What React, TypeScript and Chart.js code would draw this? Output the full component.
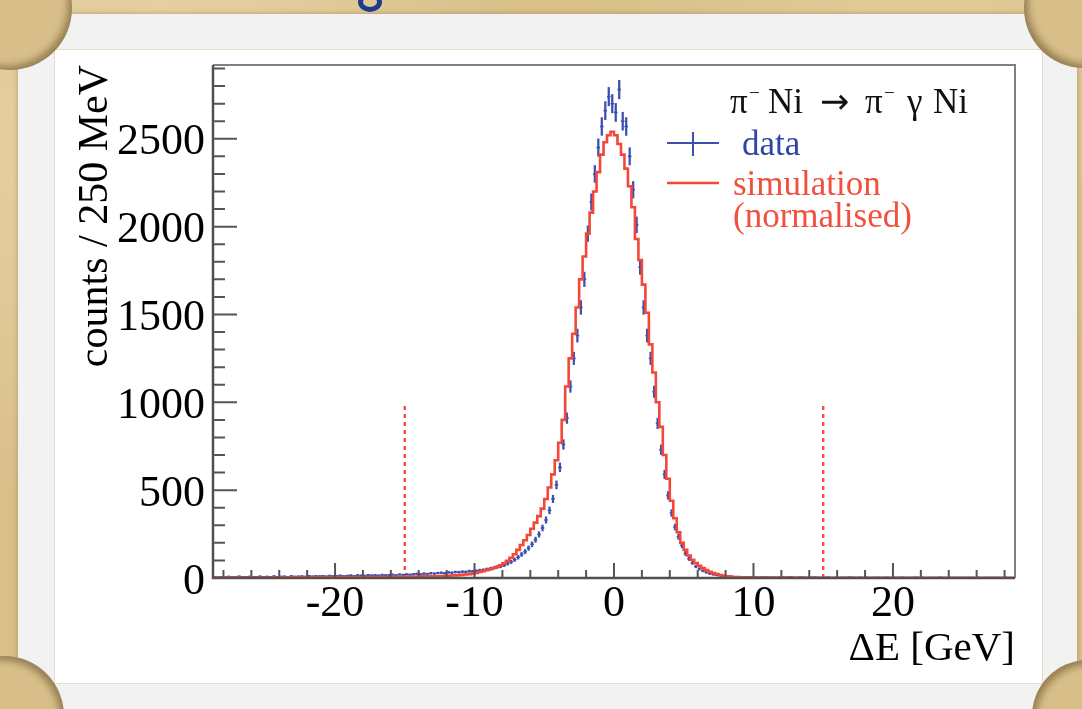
import React, { useEffect, useRef } from "react";
import { Chart, registerables } from "chart.js";

Chart.register(...registerables);

// ---- histogram binning: 0.25 GeV bins from -28.75 to 28.75 GeV ----
const BIN_LOW = -28.75;
const BIN_WIDTH = 0.25;

// ---- data (counts per bin), left tail -28.75..-10, core -10..10, right tail 10..28.75 ----
const dataLeftTail = [
  6, 4, 7, 5, 8, 6, 5, 9, 7, 6, 8, 5, 7, 9, 6, 8, 7, 10, 6, 8, 9, 7, 11, 8, 9, 10, 8, 12, 9, 11, 10, 12, 9, 13, 11,
  12, 14, 11, 13, 15, 12, 16, 14, 13, 17, 15, 16, 14, 18, 16, 17, 19, 16, 20, 18,
  21, 19, 22, 24, 21, 25, 23, 27, 25, 28, 30, 27, 32, 30, 34, 33, 36, 35, 39, 38,
];
const dataCore = [
  41, 44, 46, 50, 53, 57, 62, 66, 73, 82,
  92, 104, 118, 134, 150, 170, 192, 218, 248, 285,
  330, 385, 450, 530, 630, 760, 910, 1090, 1250, 1380,
  1540, 1700, 1960, 2140, 2300, 2450, 2570, 2660, 2740, 2700,
  2650, 2780, 2600, 2570, 2400, 2210, 2010, 1770, 1540, 1380,
  1250, 1060, 880, 730, 590, 470, 370, 290, 235, 185,
  140, 110, 86, 66, 52, 41, 32, 25, 20, 16,
  13, 11, 9, 8, 7, 6, 6, 5, 5, 4,
];
const dataRightTail = [
  4, 3, 5, 4, 3, 4, 2, 3, 4, 3, 5, 3, 2, 4, 3,
  3, 2, 4, 3, 2, 3, 4, 2, 3, 2, 3, 2, 4, 3, 2,
  3, 2, 3, 1, 2, 3, 2, 2, 3, 1, 2, 2, 3, 2, 1,
  2, 3, 2, 2, 1, 2, 2, 1, 3, 2, 1, 2, 2, 1, 2,
  1, 2, 2, 1, 2, 1, 1, 2, 1, 2, 1, 1, 2, 1, 1,
];

// ---- simulation (normalised) ----
const simLeftTail = [
  2, 2, 2, 2, 2, 2, 2, 2, 3, 3, 3, 3, 3, 3, 3, 3, 3, 3, 3, 3, 3, 4, 4, 4, 4, 4, 4, 4, 4, 4, 4, 4, 5, 5, 5,
  5, 5, 5, 5, 5, 5, 5, 6, 6, 6, 6, 6, 6, 6, 6, 6, 7, 7, 7, 7,
  7, 7, 8, 8, 8, 8, 9, 9, 9, 10, 10, 11, 12, 13, 14, 15, 16, 18, 20, 22,
];
const simCore = [
  25, 29, 34, 39, 44, 50, 57, 64, 73, 84,
  98, 115, 135, 160, 188, 215, 245, 280, 315, 352,
  395, 450, 515, 590, 670, 770, 900, 1090, 1250, 1390,
  1540, 1700, 1830, 1960, 2080, 2200, 2310, 2410, 2480, 2520,
  2540, 2520, 2470, 2410, 2330, 2230, 2110, 1930, 1810, 1670,
  1510, 1330, 1170, 1000, 860, 700, 565, 440, 340, 260,
  200, 160, 128, 104, 85, 70, 56, 45, 36, 28,
  22, 17, 13, 10, 8, 6, 5, 4, 3, 3,
];
const simRightTail = [
  3, 2, 2, 2, 2, 2, 2, 2, 2, 2, 2, 2, 2, 1, 2,
  1, 1, 2, 1, 1, 1, 1, 1, 1, 1, 1, 1, 1, 1, 1,
  1, 1, 1, 1, 1, 1, 1, 1, 1, 1, 1, 1, 1, 1, 1,
  1, 1, 1, 1, 1, 1, 1, 1, 1, 1, 1, 1, 1, 1, 1,
  1, 1, 1, 1, 1, 1, 1, 1, 1, 1, 1, 1, 1, 1, 1,
];

// ---- selection cuts (dashed lines) ----
const cutPositions = [-15, 15];
const cutHeight = 1000;

// ---- axes ----
const xTickValues = [-20, -10, 0, 10, 20];
const yTickValues = [0, 500, 1000, 1500, 2000, 2500];
const yMax = 2920;

// header pieces and their horizontal offsets within the legend header
const legendHeader = ["π", "−", "Ni", "→", "π", "−", "γ", "Ni"];
const legendHeaderOffsets = [0, 19, 38, 90, 135, 154, 177, 203];
const legendData = "data";
const legendSim = ["simulation", "(normalised)"];

const BLUE = "#3d4fb0";
const RED = "#f4473a";
const SERIF = "'Liberation Serif', 'Times New Roman', serif";

const dataCounts = [...dataLeftTail, ...dataCore, ...dataRightTail];
const simCounts = [...simLeftTail, ...simCore, ...simRightTail];
const nBins = dataCounts.length;
const BIN_HIGH = BIN_LOW + BIN_WIDTH * nBins;

const rootFrame = {
  id: "rootFrame",
  afterDatasetsDraw(chart: any) {
    const { ctx, chartArea: a, scales } = chart;
    const xs = scales.x;
    const ys = scales.y;
    ctx.save();
    ctx.strokeStyle = "#808080";
    ctx.lineWidth = 2;
    ctx.beginPath();
    ctx.moveTo(a.left, a.top);
    ctx.lineTo(a.right, a.top);
    ctx.lineTo(a.right, a.bottom);
    ctx.stroke();
    ctx.strokeStyle = "#505050";
    ctx.lineWidth = 2.5;
    ctx.beginPath();
    ctx.moveTo(a.left, a.top);
    ctx.lineTo(a.left, a.bottom);
    ctx.lineTo(a.right, a.bottom);
    ctx.stroke();
    ctx.strokeStyle = "#555";
    ctx.lineWidth = 2;
    ctx.beginPath();
    for (let v = -28; v <= 28; v += 2) {
      const px = xs.getPixelForValue(v);
      const len = v % 10 === 0 ? 15 : 8;
      ctx.moveTo(px, a.bottom);
      ctx.lineTo(px, a.bottom - len);
    }
    for (let v = 0; v <= yMax; v += 100) {
      const py = ys.getPixelForValue(v);
      const len = v % 500 === 0 ? 24 : 12;
      ctx.moveTo(a.left, py);
      ctx.lineTo(a.left + len, py);
    }
    ctx.stroke();
    ctx.restore();
  },
};

const rootLegend = {
  id: "rootLegend",
  afterDraw(chart: any) {
    const { ctx, chartArea: a } = chart;
    ctx.save();
    ctx.textBaseline = "alphabetic";
    ctx.textAlign = "left";
    const hx = a.right - 285;
    const hy = a.top + 48;
    const size = 35;
    legendHeader.forEach((p, i) => {
      const sup = p === "−";
      const arrow = p === "→";
      ctx.font = arrow
        ? `${size}px 'DejaVu Sans', sans-serif`
        : `${sup ? size * 0.55 : size}px ${SERIF}`;
      ctx.fillStyle = "#111";
      ctx.fillText(p, hx + legendHeaderOffsets[i], sup ? hy - size * 0.4 : hy);
    });
    ctx.strokeStyle = BLUE;
    ctx.lineWidth = 2;
    ctx.beginPath();
    ctx.moveTo(a.right - 348, a.top + 78);
    ctx.lineTo(a.right - 296, a.top + 78);
    ctx.moveTo(a.right - 322, a.top + 67);
    ctx.lineTo(a.right - 322, a.top + 91);
    ctx.stroke();
    ctx.font = `35px ${SERIF}`;
    ctx.fillStyle = "#2f45a6";
    ctx.fillText(legendData, a.right - 273, a.top + 90);
    ctx.strokeStyle = RED;
    ctx.lineWidth = 2.5;
    ctx.beginPath();
    ctx.moveTo(a.right - 348, a.top + 118);
    ctx.lineTo(a.right - 296, a.top + 118);
    ctx.stroke();
    ctx.fillStyle = "#f2503f";
    ctx.fillText(legendSim[0], a.right - 282, a.top + 130);
    ctx.fillText(legendSim[1], a.right - 282, a.top + 162);
    ctx.restore();
  },
};

export default function App() {
  const ref = useRef<HTMLCanvasElement>(null);

  useEffect(() => {
    const canvas = ref.current;
    if (!canvas) return;
    const centers = dataCounts.map((_, i) => BIN_LOW + BIN_WIDTH * (i + 0.5));
    const simPoints = simCounts.map((v, i) => ({ x: BIN_LOW + BIN_WIDTH * i, y: v }));
    simPoints.push({ x: BIN_HIGH, y: simCounts[nBins - 1] });

    const chart = new Chart(canvas, {
      type: "scatter",
      data: {
        datasets: [
          {
            type: "line",
            label: "simulation",
            data: simPoints,
            stepped: "after",
            borderColor: RED,
            borderWidth: 2.6,
            pointRadius: 0,
            fill: false,
            order: 0,
          } as any,
          {
            type: "bar",
            label: "data errors",
            data: dataCounts.map((v, i) => ({ x: centers[i], y: [v - Math.sqrt(v), v + Math.sqrt(v)] })),
            backgroundColor: BLUE,
            barThickness: 1.6,
            borderWidth: 0,
            order: 1,
          } as any,
          {
            type: "scatter",
            label: "data",
            data: dataCounts.map((v, i) => ({ x: centers[i], y: v })),
            pointStyle: "line",
            pointRadius: 1.8,
            borderColor: BLUE,
            borderWidth: 1.6,
            order: 2,
          } as any,
          ...cutPositions.map((c) => ({
            type: "line",
            label: "cut",
            data: [
              { x: c, y: 0 },
              { x: c, y: cutHeight },
            ],
            borderColor: "#f5503f",
            borderWidth: 2.4,
            borderDash: [4, 4],
            pointRadius: 0,
            order: 3,
          })) as any,
        ],
      },
      options: {
        responsive: false,
        animation: false,
        devicePixelRatio: 1,
        events: [],
        layout: { padding: { left: 53, right: 67, top: 65, bottom: 26 } },
        plugins: { legend: { display: false }, tooltip: { enabled: false } },
        scales: {
          x: {
            type: "linear",
            min: BIN_LOW,
            max: BIN_HIGH,
            offset: false,
            grid: { display: false, drawTicks: false },
            border: { display: false },
            afterBuildTicks: (s: any) => {
              s.ticks = xTickValues.map((v) => ({ value: v }));
            },
            afterFit: (s: any) => {
              s.height = 105;
            },
            ticks: {
              autoSkip: false,
              maxRotation: 0,
              padding: 0,
              color: "#000",
              font: { family: SERIF, size: 44 },
              callback: (v: any) => `${v}`,
            },
            title: {
              display: true,
              text: "ΔE [GeV]",
              align: "end",
              color: "#000",
              font: { family: SERIF, size: 41 },
              padding: { top: 0, bottom: 9 },
            },
          },
          y: {
            type: "linear",
            min: 0,
            max: yMax,
            grid: { display: false, drawTicks: false },
            border: { display: false },
            afterBuildTicks: (s: any) => {
              s.ticks = yTickValues.map((v) => ({ value: v }));
            },
            afterFit: (s: any) => {
              s.width = 160;
            },
            ticks: {
              autoSkip: false,
              padding: 8,
              labelOffset: 4,
              color: "#000",
              font: { family: SERIF, size: 44 },
              callback: (v: any) => `${v}`,
            },
            title: {
              display: true,
              text: "counts / 250 MeV",
              align: "end",
              color: "#000",
              font: { family: SERIF, size: 42 },
              padding: { top: 18, bottom: 0 },
            },
          },
        },
      } as any,
      plugins: [rootFrame, rootLegend],
    });
    return () => chart.destroy();
  }, []);

  const parchment =
    "radial-gradient(circle at 15% 20%, rgba(250,236,200,0.55) 0, rgba(250,236,200,0) 35%)," +
    "radial-gradient(circle at 85% 10%, rgba(235,215,165,0.6) 0, rgba(235,215,165,0) 30%)," +
    "radial-gradient(circle at 50% 95%, rgba(190,150,90,0.35) 0, rgba(190,150,90,0) 40%)," +
    "#d9bf89";

  const circle = (left: number, top: number, r: number, shadow: string) => (
    <div
      style={{
        position: "absolute",
        left: left - r,
        top: top - r,
        width: 2 * r,
        height: 2 * r,
        borderRadius: "50%",
        background: "#d8be88",
        boxShadow: shadow,
      }}
    />
  );

  return (
    <div
      style={{
        position: "fixed",
        left: 0,
        top: 0,
        width: 1082,
        height: 709,
        overflow: "hidden",
        background: parchment,
      }}
    >
      <div
        style={{
          position: "absolute",
          left: 358,
          top: -8,
          width: 14,
          height: 10,
          border: "5px solid #1d3c8f",
          borderTopColor: "transparent",
          borderRadius: "50%",
        }}
      />
      <div
        style={{
          position: "absolute",
          left: 18,
          top: 14,
          width: 1059,
          height: 720,
          background: "#f2f2f2",
          boxShadow: "0 0 5px rgba(80,60,20,0.35)",
        }}
      />
      <div
        style={{
          position: "absolute",
          left: 55,
          top: 50,
          width: 987,
          height: 633,
          background: "#ffffff",
          boxShadow: "0 0 0 1px #e8dcc4",
        }}
      />
      {circle(10, 8, 62, "inset -4px -4px 7px rgba(70,50,20,0.45)")}
      {circle(1084, 8, 60, "inset 4px -4px 7px rgba(70,50,20,0.45)")}
      {circle(4, 716, 60, "inset -4px 4px 7px rgba(70,50,20,0.45)")}
      {circle(1088, 716, 56, "inset 4px 4px 7px rgba(70,50,20,0.45)")}
      <canvas
        ref={ref}
        width={1082}
        height={709}
        style={{ position: "absolute", left: 0, top: 0, width: 1082, height: 709 }}
      />
    </div>
  );
}
